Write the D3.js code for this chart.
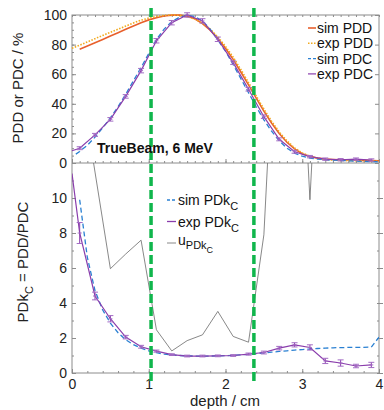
<!DOCTYPE html>
<html>
<head>
<meta charset="utf-8">
<script src="https://cdn.jsdelivr.net/npm/d3@7"></script>
<style>
  body { margin: 0; background: #fff; }
  svg { display: block; font-family: "Liberation Sans", Arial, sans-serif; }
</style>
</head>
<body>
<svg id="chart" width="384" height="410"></svg>
<script>
// ---- data ----
const simPDDDepth = [0.1,0.2,0.3,0.4,0.5,0.6,0.7,0.8,0.9,1.0,1.1,1.2,1.3,1.4,1.5,1.6,1.7,1.8,1.9,2.0,2.1,2.2,2.3,2.4,2.5,2.6,2.7,2.8,2.9,3.0,3.1,3.2,3.3,3.4,3.5,3.6,3.7,3.8,3.9,4.0];
const simPDD = [76.8,79,81.3,83.5,85.8,88,90.3,92.6,94.8,96.7,98.2,99.3,99.9,99.9,99.2,97.4,94.2,89.8,84.3,77.5,70,61.5,52.8,43.8,35,27,20,14,9.5,6.3,4.4,3.3,2.7,2.4,2.2,2,1.9,1.8,1.6,1.5];

const expPDDDepth = [0,0.1,0.2,0.3,0.4,0.5,0.6,0.7,0.8,0.9,1.0,1.1,1.2,1.3,1.4,1.5,1.6,1.7,1.8,1.9,2.0,2.1,2.2,2.3,2.4,2.5,2.6,2.7,2.8,2.9,3.0,3.1,3.2,3.3,3.4,3.5,3.6,3.7,3.8,3.9,4.0];
const expPDD = [77.5,79.6,81.8,84,86.2,88.3,90.4,92.5,94.6,96.5,97.9,99,99.7,100,99.8,99,97.3,94.6,90.5,85.2,78.8,71.5,63.2,54.3,45.3,36.5,28.3,21,15,10.2,6.8,4.5,3.1,2.4,2,1.8,1.6,1.5,1.4,1.3,1.2];

const simPDCDepth = [0.05,0.1,0.2,0.3,0.4,0.5,0.6,0.7,0.8,0.9,1.0,1.1,1.2,1.3,1.4,1.5,1.6,1.7,1.8,1.9,2.0,2.1,2.2,2.3,2.4,2.5,2.6,2.7,2.8,2.9,3.0,3.1,3.2,3.3,3.4,3.5,3.6,3.7,3.8,3.9,4.0];
const simPDC = [6,7.8,12,17.5,23.8,30.5,38,46.5,55.5,64.5,74,83.5,90.5,95.5,98.5,99.8,99,96,90.5,83.2,75.5,66.5,57,47.5,38,29.2,21.5,15,10,6.6,4.6,3.3,2.6,2.2,1.9,1.7,1.5,1.3,1.1,1,0.8];

const expPDCDepth = [0,0.1,0.3,0.5,0.7,0.9,1.1,1.3,1.5,1.7,1.9,2.1,2.3,2.5,2.7,2.9,3.1,3.3,3.5,3.7,3.9];
const expPDC = [8.3,10,19,29.5,45,62.4,82.6,94.8,100,96,83.6,67.8,49.8,31.3,16,7.6,4.3,2.6,2.2,2.6,2];
const expPDCErr = [0,1,1,1.2,1.2,1.5,1.5,1.5,1.5,1.5,1.5,1.2,1.2,1.2,1,1,0.8,0.8,0.8,0.8,0.8];

const simPDkCDepth = [0.1,0.2,0.3,0.4,0.5,0.6,0.7,0.8,0.9,1.0,1.1,1.2,1.3,1.4,1.5,1.6,1.7,1.8,1.9,2.0,2.1,2.2,2.3,2.4,2.5,2.6,2.7,2.8,2.9,3.0,3.1,3.2,3.3,3.4,3.5,3.6,3.7,3.8,3.9,4.0];
const simPDkC = [9.9,6.6,4.7,3.6,2.85,2.3,1.9,1.62,1.42,1.27,1.16,1.08,1.03,1,0.98,0.97,0.97,0.97,0.98,0.99,1.01,1.04,1.07,1.11,1.15,1.19,1.23,1.27,1.31,1.34,1.37,1.4,1.42,1.44,1.45,1.46,1.47,1.47,1.48,2.05];

const expPDkCDepth = [0,0.1,0.3,0.5,0.7,0.9,1.1,1.3,1.5,1.7,1.9,2.1,2.3,2.5,2.7,2.9,3.1,3.3,3.5,3.7,3.9];
const expPDkC = [11.4,8,4.4,3.1,2.05,1.5,1.25,1.05,0.97,0.97,0.98,1,1.08,1.17,1.42,1.61,1.46,0.69,0.57,0.4,0.46];
const expPDkCErr = [0,0.6,0.22,0.18,0.1,0.08,0.06,0.05,0.05,0.05,0.05,0.05,0.06,0.08,0.1,0.12,0.15,0.15,0.18,0.1,0.15];

const uDepth = [0.1,0.5,0.7,0.9,1.1,1.3,1.5,1.7,1.9,2.1,2.3,2.5,2.7,2.9,3.1,3.3,3.5,3.7,3.9];
const uPDkC = [17,5.96,6.8,7.59,2.47,1.26,1.85,2.18,3.52,2.09,1.76,7.9,25,27,9.9,27,30,35,40];

const cutDepths = [1.03, 2.37];

const topTicks = [0,20,40,60,80,100];
const botTicks = [0,2,4,6,8,10];
const xTicks = [0,1,2,3,4];

const topLegend = ["sim PDD","exp PDD","sim PDC","exp PDC"];

// ---- scales ----
const x = d3.scaleLinear().domain([0,4]).range([72,379]);
const yTop = d3.scaleLinear().domain([0,100]).range([163,15]);
const yBot = d3.scaleLinear().domain([0,12]).range([373,163]);

const svg = d3.select("#chart");
const C = {simPDD:"#e8602c", expPDD:"#f2aa1d", simPDC:"#2a80d2", expPDC:"#8a3dac", u:"#6a6a6a", axis:"#8c8c8c", green:"#10b64c"};

svg.append("defs").append("clipPath").attr("id","clipBot")
  .append("rect").attr("x",72).attr("y",163).attr("width",307).attr("height",210);

// ---- axes ----
function styleAxis(g){
  g.selectAll(".domain").remove();
  g.selectAll("line").attr("stroke",C.axis);
  g.selectAll("text").attr("fill","#222").style("font-size","14px");
}
const minorX = d3.range(0,4.001,0.1);

// top edge
svg.append("g").attr("transform","translate(0,15)")
  .call(d3.axisTop(x).tickValues(minorX).tickSize(-2).tickFormat("")).call(styleAxis);
// shared middle edge, ticks up into top panel
svg.append("g").attr("transform","translate(0,163)")
  .call(d3.axisBottom(x).tickValues(minorX).tickSize(-2).tickFormat("")).call(styleAxis);
svg.append("g").attr("transform","translate(0,163)")
  .call(d3.axisBottom(x).tickValues(xTicks).tickSize(-4).tickFormat("")).call(styleAxis);
// bottom edge
svg.append("g").attr("transform","translate(0,373)")
  .call(d3.axisBottom(x).tickValues(xTicks).tickFormat(d3.format("d"))
    .tickSizeInner(-4).tickSizeOuter(0).tickPadding(6)).call(styleAxis);
svg.append("g").attr("transform","translate(0,373)")
  .call(d3.axisBottom(x).tickValues(d3.range(0,4.001,0.2)).tickSize(-2).tickFormat("")).call(styleAxis);

// top left
svg.append("g").attr("transform","translate(72,0)")
  .call(d3.axisLeft(yTop).tickValues(topTicks).tickSizeInner(-4).tickSizeOuter(0).tickPadding(5)).call(styleAxis);
svg.append("g").attr("transform","translate(72,0)")
  .call(d3.axisLeft(yTop).tickValues(d3.range(0,101,5)).tickSize(-2).tickFormat("")).call(styleAxis);
// top right
svg.append("g").attr("transform","translate(379,0)")
  .call(d3.axisRight(yTop).tickValues(topTicks).tickSize(-4).tickFormat("")).call(styleAxis);
// bottom left
svg.append("g").attr("transform","translate(72,0)")
  .call(d3.axisLeft(yBot).tickValues(botTicks).tickSizeInner(-4).tickSizeOuter(0).tickPadding(5)).call(styleAxis);
svg.append("g").attr("transform","translate(72,0)")
  .call(d3.axisLeft(yBot).tickValues(d3.range(0,12,1)).tickSize(-2).tickFormat("")).call(styleAxis);
// bottom right, outward
svg.append("g").attr("transform","translate(379,0)")
  .call(d3.axisRight(yBot).tickValues(botTicks).tickSize(4).tickFormat("")).call(styleAxis);
svg.append("g").attr("transform","translate(379,0)")
  .call(d3.axisRight(yBot).tickValues(d3.range(0,12,1)).tickSize(-2).tickFormat("")).call(styleAxis);

// frame
svg.append("rect").attr("x",72).attr("y",15).attr("width",307).attr("height",358)
  .attr("fill","none").attr("stroke",C.axis).attr("stroke-width",1);
svg.append("line").attr("x1",72).attr("x2",379).attr("y1",163).attr("y2",163)
  .attr("stroke",C.axis);

// ---- top panel lines ----
const lineTop = d3.line().x(d => x(d[0])).y(d => yTop(d[1]));
const lineBot = d3.line().x(d => x(d[0])).y(d => yBot(d[1]));
const zip = (a,b) => a.map((v,i) => [v,b[i]]);

svg.append("path").datum(zip(simPDDDepth,simPDD)).attr("d",lineTop)
  .attr("fill","none").attr("stroke",C.simPDD).attr("stroke-width",1.6);
svg.append("path").datum(zip(expPDDDepth,expPDD)).attr("d",lineTop)
  .attr("fill","none").attr("stroke",C.expPDD).attr("stroke-width",1.6).attr("stroke-dasharray","1.5,1.5");
svg.append("path").datum(zip(simPDCDepth,simPDC)).attr("d",lineTop)
  .attr("fill","none").attr("stroke",C.simPDC).attr("stroke-width",1.3).attr("stroke-dasharray","5,3");
svg.append("path").datum(zip(expPDCDepth,expPDC)).attr("d",lineTop)
  .attr("fill","none").attr("stroke",C.expPDC).attr("stroke-width",1.2);

function errorBars(g, depth, vals, errs, y){
  const pts = depth.map((d,i) => ({d, v:vals[i], e:errs[i]})).filter(p => p.d > 0);
  const eb = g.append("g").attr("stroke",C.expPDC).attr("stroke-width",1).attr("fill","none");
  pts.forEach(p => {
    const cx = x(p.d), y1 = y(p.v + p.e), y2 = y(p.v - p.e);
    eb.append("line").attr("x1",cx).attr("x2",cx).attr("y1",y1).attr("y2",y2);
    eb.append("line").attr("x1",cx-3).attr("x2",cx+3).attr("y1",y1).attr("y2",y1).attr("stroke","#a36cc4");
    eb.append("line").attr("x1",cx-3).attr("x2",cx+3).attr("y1",y2).attr("y2",y2).attr("stroke","#a36cc4");
    eb.append("line").attr("x1",cx-2).attr("x2",cx+2).attr("y1",y(p.v)).attr("y2",y(p.v)).attr("stroke","#a36cc4");
  });
}
errorBars(svg, expPDCDepth, expPDC, expPDCErr, yTop);

// ---- bottom panel lines ----
const bot = svg.append("g").attr("clip-path","url(#clipBot)");
bot.append("path").datum(zip(uDepth,uPDkC)).attr("d",lineBot)
  .attr("fill","none").attr("stroke",C.u).attr("stroke-width",0.8);
bot.append("path").datum(zip(simPDkCDepth,simPDkC)).attr("d",lineBot)
  .attr("fill","none").attr("stroke",C.simPDC).attr("stroke-width",1.3).attr("stroke-dasharray","5,3");
bot.append("path").datum(zip(expPDkCDepth,expPDkC)).attr("d",lineBot)
  .attr("fill","none").attr("stroke",C.expPDC).attr("stroke-width",1.2);
errorBars(bot, expPDkCDepth, expPDkC, expPDkCErr, yBot);

// ---- green depth markers ----
svg.append("g").selectAll("line").data(cutDepths).join("line")
  .attr("x1",d => x(d)).attr("x2",d => x(d)).attr("y1",8).attr("y2",382)
  .attr("stroke",C.green).attr("stroke-width",3.5).attr("stroke-dasharray","9,4");

// ---- legends ----
const legTop = svg.append("g");
const legStyle = [
  {c:C.simPDD, dash:null, w:1.6},
  {c:C.expPDD, dash:"1.5,1.5", w:1.6},
  {c:C.simPDC, dash:"3,2", w:1.3},
  {c:C.expPDC, dash:null, w:1.2}
];
topLegend.forEach((t,i) => {
  const yy = 28 + i*15.3;
  legTop.append("line").attr("x1",308).attr("x2",316).attr("y1",yy).attr("y2",yy)
    .attr("stroke",legStyle[i].c).attr("stroke-width",legStyle[i].w).attr("stroke-dasharray",legStyle[i].dash);
  legTop.append("text").attr("x",317).attr("y",yy+5).attr("font-size",14).attr("fill","#111").text(t);
});

const legBot = svg.append("g");
[[C.simPDC,"3,2","sim PDk"],[C.expPDC,null,"exp PDk"]].forEach((r,i) => {
  const yy = 200 + i*21.5;
  legBot.append("line").attr("x1",167).attr("x2",176).attr("y1",yy).attr("y2",yy)
    .attr("stroke",r[0]).attr("stroke-width",1.3).attr("stroke-dasharray",r[1]);
  const t = legBot.append("text").attr("x",178).attr("y",yy+5).attr("font-size",14).attr("fill","#111");
  t.append("tspan").text(r[2]);
  t.append("tspan").attr("dy",5).attr("font-size",11).text("C");
});
legBot.append("line").attr("x1",167).attr("x2",176).attr("y1",243).attr("y2",243)
  .attr("stroke",C.u).attr("stroke-width",0.8);
const ut = legBot.append("text").attr("x",178).attr("y",245).attr("font-size",14).attr("fill","#111");
ut.append("tspan").text("u");
ut.append("tspan").attr("dy",4).attr("font-size",11).text("PDk");
ut.append("tspan").attr("dy",4).attr("font-size",9).text("C");

// annotation
svg.append("text").attr("x",97).attr("y",153).attr("font-size",14).attr("font-weight","bold")
  .attr("fill","#111").text("TrueBeam, 6 MeV");

// axis titles
svg.append("text").attr("transform","translate(23,88) rotate(-90)").attr("text-anchor","middle")
  .attr("font-size",15).attr("fill","#222").text("PDD or PDC / %");
const yl = svg.append("text").attr("transform","translate(28,262) rotate(-90)").attr("text-anchor","middle")
  .attr("font-size",15).attr("fill","#222");
yl.append("tspan").text("PDk");
yl.append("tspan").attr("dy",5).attr("font-size",11).text("C");
yl.append("tspan").attr("dy",-5).text(" = PDD/PDC");
svg.append("text").attr("x",225).attr("y",406).attr("text-anchor","middle")
  .attr("font-size",15).attr("fill","#222").text("depth / cm");
</script>
</body>
</html>
